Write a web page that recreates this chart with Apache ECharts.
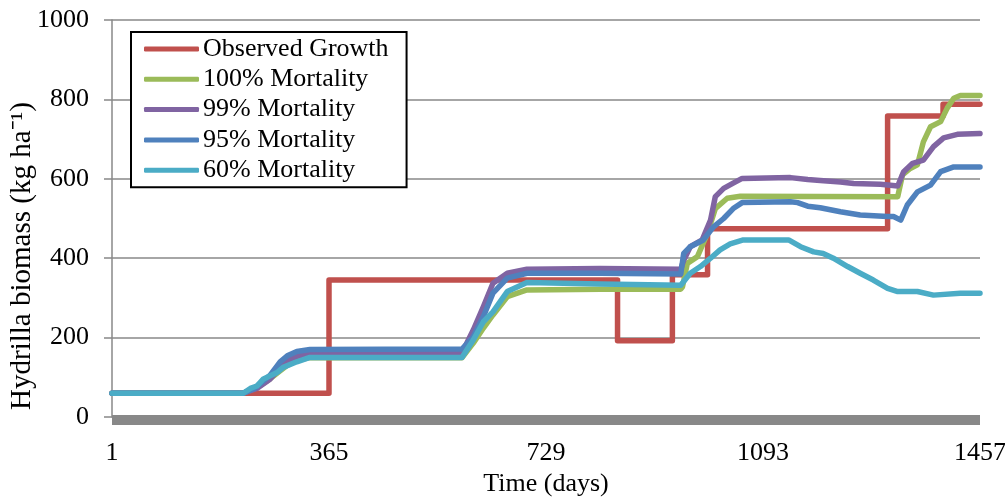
<!DOCTYPE html>
<html><head><meta charset="utf-8">
<script src="https://cdn.jsdelivr.net/npm/echarts@6/dist/echarts.min.js"></script>
<style>html,body{margin:0;padding:0;background:#fff}#c{width:1005px;height:500px}</style>
</head><body><div id="c"></div>
<script>
// ---- data (days, kg/ha) ----
const xTickLabels = [1, 365, 729, 1093, 1457];
const yTickLabels = [0, 200, 400, 600, 800, 1000];

const obsName = 'Observed Growth';
const obsDays = [1, 365, 849, 941, 1000, 1302, 1395, 1457];
const obsVals = [60, 345, 192, 358, 474, 758, 788, 788];

const m100Name = '100% Mortality';
const m100Days = [1, 221, 244, 266, 283, 295, 311, 333, 588, 607, 624, 640, 664, 697, 820, 955, 958, 966, 983, 1000, 1013, 1033, 1055, 1319, 1327, 1340, 1352, 1362, 1374, 1391, 1402, 1413, 1424, 1457];
const m100Vals = [60, 60, 74, 96, 116, 130, 143, 150, 149, 186, 224, 257, 303, 320, 322, 322, 328, 387, 404, 463, 525, 551, 556, 555, 610, 626, 635, 693, 731, 744, 778, 803, 810, 810];

const m99Name = '99% Mortality';
const m99Days = [1, 221, 244, 266, 283, 295, 311, 333, 588, 607, 624, 640, 664, 697, 820, 955, 958, 960, 971, 991, 1005, 1013, 1027, 1043, 1058, 1139, 1168, 1189, 1223, 1245, 1290, 1319, 1329, 1344, 1362, 1379, 1396, 1419, 1457];
const m99Vals = [60, 60, 72, 95, 125, 142, 153, 160, 161, 219, 278, 337, 362, 372, 374, 372, 374, 395, 429, 446, 496, 555, 576, 589, 601, 603, 598, 596, 592, 588, 586, 582, 618, 639, 647, 681, 703, 712, 714];

const m95Name = '95% Mortality';
const m95Days = [1, 221, 240, 266, 283, 295, 311, 333, 588, 607, 624, 640, 664, 697, 820, 955, 958, 960, 971, 993, 1010, 1027, 1043, 1058, 1139, 1151, 1168, 1189, 1223, 1256, 1302, 1312, 1324, 1335, 1352, 1374, 1391, 1413, 1457];
const m95Vals = [60, 60, 72, 105, 139, 154, 165, 170, 171, 202, 253, 312, 350, 362, 362, 360, 362, 412, 429, 446, 479, 500, 525, 540, 542, 540, 531, 527, 517, 509, 505, 505, 496, 534, 567, 584, 618, 630, 630];

const m60Name = '60% Mortality';
const m60Days = [1, 221, 233, 244, 255, 278, 288, 311, 333, 588, 607, 624, 640, 664, 697, 820, 955, 971, 988, 1005, 1021, 1038, 1060, 1136, 1156, 1178, 1194, 1211, 1235, 1256, 1278, 1302, 1319, 1352, 1379, 1424, 1457];
const m60Vals = [60, 60, 72, 78, 96, 112, 125, 139, 150, 150, 194, 240, 265, 316, 339, 335, 332, 362, 379, 400, 421, 436, 446, 446, 429, 416, 412, 400, 379, 362, 345, 324, 316, 316, 307, 312, 312];

// ---- build ----
const FONT = 'Liberation Serif';
const pairs = (d, v) => d.map((x, i) => [x - 1, v[i]]);
function lineSeries(name, days, vals, color, extra) {
  return Object.assign({
    name, type: 'line', data: pairs(days, vals), showSymbol: false, symbol: 'none',
    color, lineStyle: { width: 5.5, color, join: 'round', cap: 'round' }, animation: false
  }, extra || {});
}

const chart = echarts.init(document.getElementById('c'), null, { renderer: 'canvas' });
chart.setOption({
  animation: false,
  backgroundColor: '#fff',
  grid: { left: 112, right: 25, top: 20, bottom: 83, containLabel: false, outerBoundsMode: 'none' },
  xAxis: {
    type: 'value', min: xTickLabels[0] - 1, max: xTickLabels[xTickLabels.length - 1] - 1,
    interval: xTickLabels[1] - xTickLabels[0], offset: 3,
    axisLine: { show: true, onZero: false, lineStyle: { color: '#888', width: 10, cap: 'butt' } },
    axisTick: { show: false }, splitLine: { show: false },
    axisLabel: { formatter: v => String(v + 1), fontFamily: FONT, fontSize: 26, color: '#000', margin: 20 },
    name: 'Time (days)', nameLocation: 'middle', nameGap: 50,
    nameTextStyle: { fontFamily: FONT, fontSize: 26, color: '#000' }
  },
  yAxis: {
    type: 'value', min: yTickLabels[0], max: yTickLabels[yTickLabels.length - 1],
    interval: yTickLabels[1] - yTickLabels[0],
    axisLine: { show: true, lineStyle: { color: '#888', width: 1.5 } },
    axisTick: { show: true, length: 8, lineStyle: { color: '#888', width: 1.5 } },
    splitLine: { show: true, lineStyle: { color: '#888', width: 1.5 } },
    axisLabel: { formatter: v => String(v), fontFamily: FONT, fontSize: 26, color: '#000', margin: 23 }
  },
  legend: {
    orient: 'vertical', left: 131, top: 32,
    data: [obsName, m100Name, m99Name, m95Name, m60Name],
    backgroundColor: '#fff', borderColor: '#000', borderWidth: 2,
    padding: [4, 18, 4, 13], itemGap: 4.3, itemWidth: 55, itemHeight: 5, icon: 'roundRect',
    textStyle: { fontFamily: FONT, fontSize: 26, color: '#000', lineHeight: 25, padding: [0, 0, 0, -1] }
  },
  graphic: [{
    type: 'text', x: 22, y: 256, rotation: Math.PI / 2,
    style: { text: 'Hydrilla biomass (kg ha\u207B\u00B9)', fontFamily: FONT, fontSize: 29, fill: '#000', align: 'center', verticalAlign: 'middle' }
  }],
  series: [
    lineSeries(obsName, obsDays, obsVals, '#C0504D', { step: 'end' }),
    lineSeries(m100Name, m100Days, m100Vals, '#9BBB59'),
    lineSeries(m99Name, m99Days, m99Vals, '#8064A2'),
    lineSeries(m95Name, m95Days, m95Vals, '#4F81BD'),
    lineSeries(m60Name, m60Days, m60Vals, '#4BACC6')
  ]
});
</script></body></html>
